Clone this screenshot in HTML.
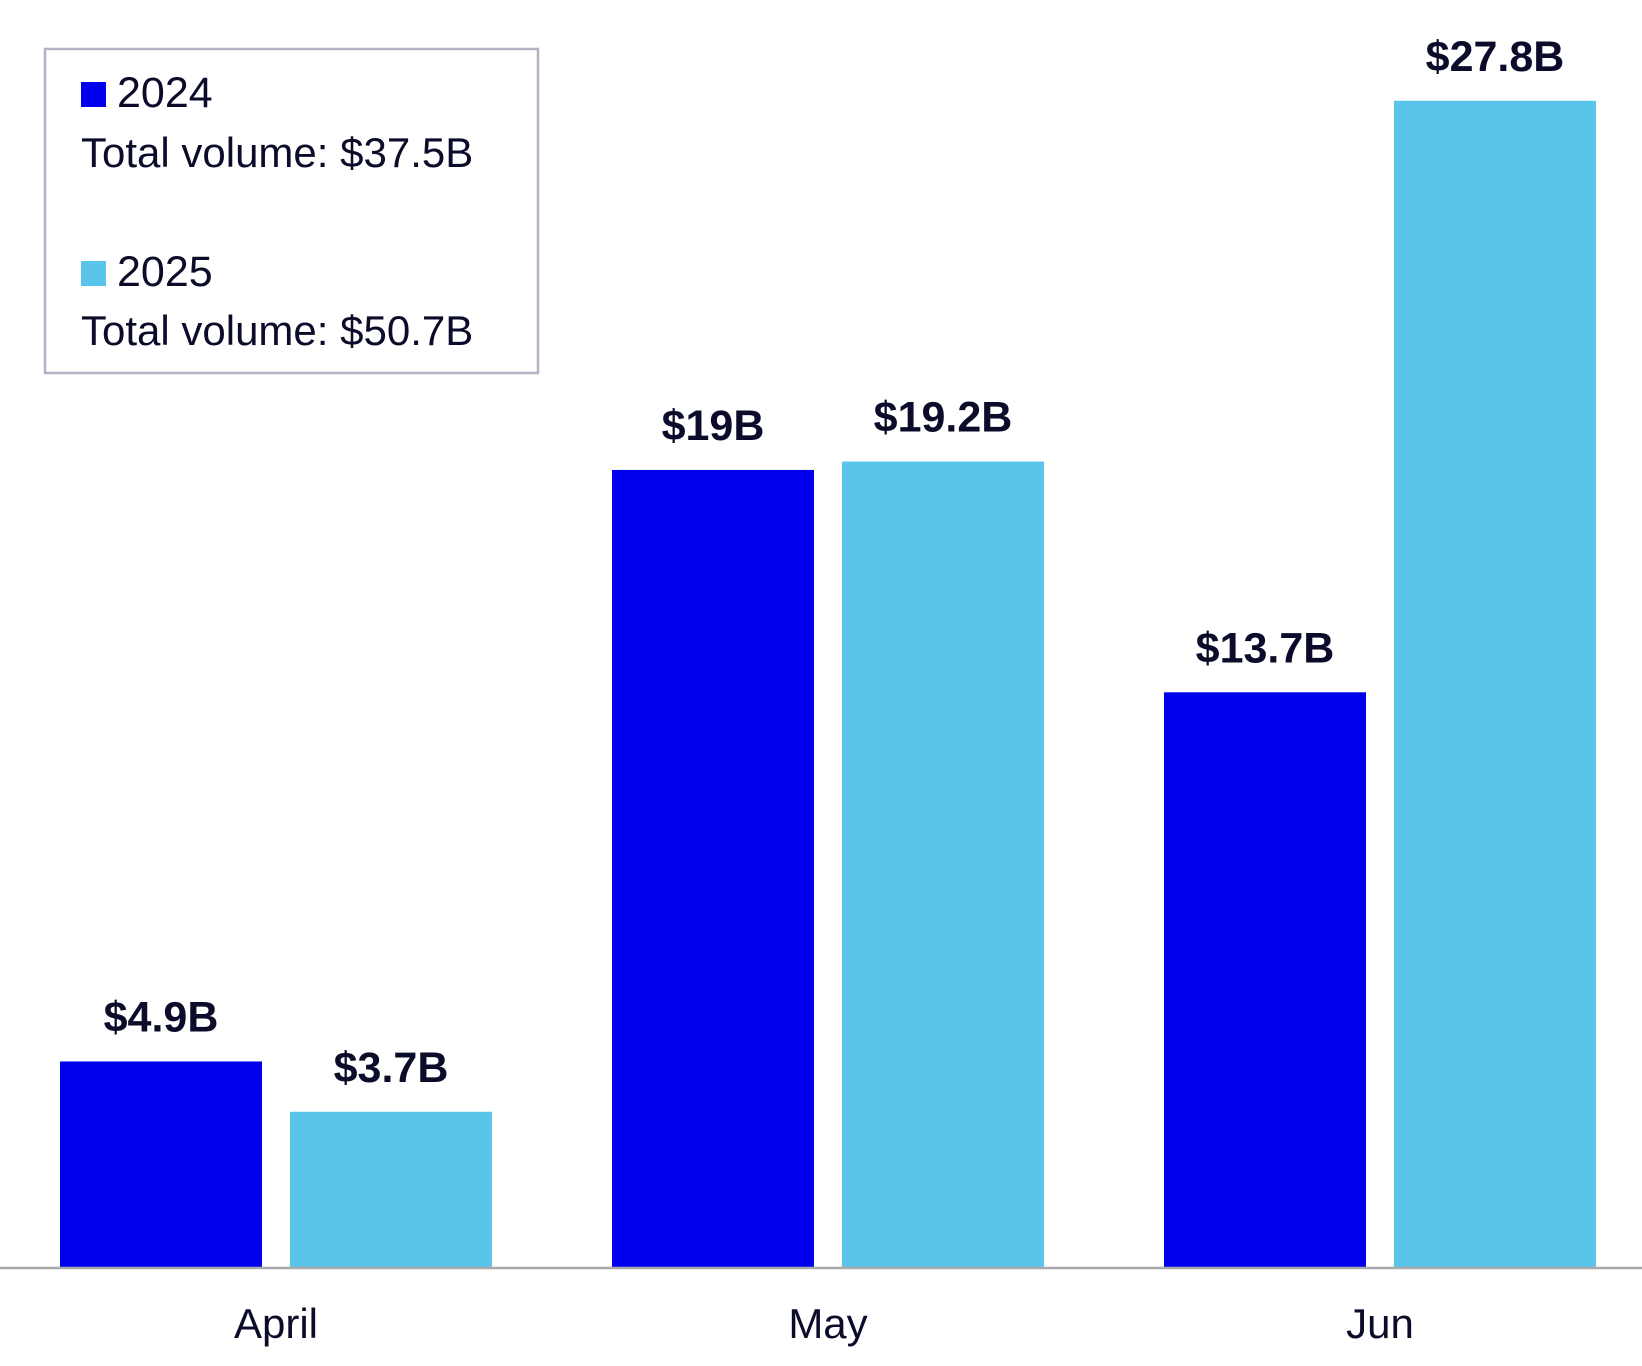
<!DOCTYPE html>
<html><head><meta charset="utf-8"><style>
body{margin:0;background:#fff;}
svg{display:block;font-family:"Liberation Sans",sans-serif;}
</style></head><body>
<svg width="1642" height="1366" viewBox="0 0 1642 1366">
<g id="bars"></g>
<line x1="0" y1="1268" x2="1642" y2="1268" stroke="#a9a9ad" stroke-width="2.5"/>
<g>
<rect x="45" y="49" width="493" height="324" fill="#fff" stroke="#b4b2c4" stroke-width="2.5"/>
<rect x="81" y="82" width="25" height="25" fill="#0000ee"/>
<text x="117" y="107" font-size="43" fill="#0b0b2a">2024</text>
<text x="81" y="167" font-size="42" fill="#0b0b2a">Total volume: $37.5B</text>
<rect x="81" y="261" width="25" height="25" fill="#5bc4ea"/>
<text x="117" y="286" font-size="43" fill="#0b0b2a">2025</text>
<text x="81" y="345" font-size="42" fill="#0b0b2a">Total volume: $50.7B</text>
</g>
</svg>
<script>
const categories = ["April", "May", "Jun"];
const values2024 = [4.9, 19, 13.7];
const values2025 = [3.7, 19.2, 27.8];
const labels2024 = ["$4.9B", "$19B", "$13.7B"];
const labels2025 = ["$3.7B", "$19.2B", "$27.8B"];

const baseY = 1267, pxPerUnit = 41.95;
const groupStart = 60, groupStep = 552, barW = 202, barGap = 28;
function yScale(v){ return baseY - v * pxPerUnit; }
function xBar(i, s){ return groupStart + i * groupStep + s * (barW + barGap); }

const NS = "http://www.w3.org/2000/svg";
const g = document.getElementById("bars");
const series = [
  {vals: values2024, labels: labels2024, color: "#0000ee", key: "2024"},
  {vals: values2025, labels: labels2025, color: "#5bc4ea", key: "2025"}
];
categories.forEach((cat, i) => {
  series.forEach((s, si) => {
    const x = xBar(i, si), y = yScale(s.vals[i]);
    const r = document.createElementNS(NS, "rect");
    r.setAttribute("x", x); r.setAttribute("y", y);
    r.setAttribute("width", barW); r.setAttribute("height", baseY - y);
    r.setAttribute("fill", s.color);
    
    
    g.appendChild(r);
    const t = document.createElementNS(NS, "text");
    t.setAttribute("x", x + barW / 2); t.setAttribute("y", y - 30);
    t.setAttribute("text-anchor", "middle"); t.setAttribute("font-size", "43");
    t.setAttribute("font-weight", "bold"); t.setAttribute("fill", "#0b0b2a");
    t.textContent = s.labels[i];
    
    
    g.appendChild(t);
  });
  const c = document.createElementNS(NS, "text");
  c.setAttribute("x", xBar(i, 0) + barW + barGap / 2); c.setAttribute("y", 1338);
  c.setAttribute("text-anchor", "middle"); c.setAttribute("font-size", "42");
  c.setAttribute("fill", "#0b0b2a");
  c.textContent = cat;
  
  
  g.appendChild(c);
});
</script>
</body></html>
